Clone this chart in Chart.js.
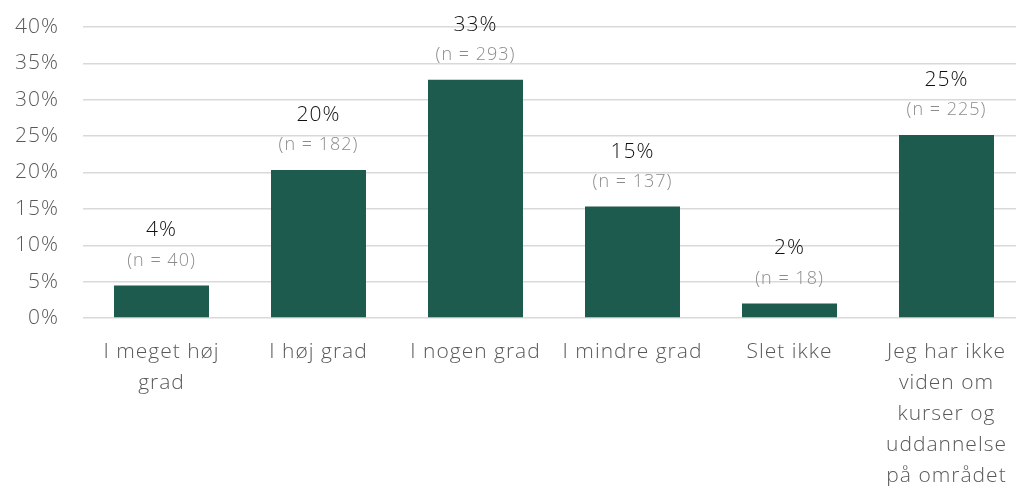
<!DOCTYPE html>
<html>
<head>
<meta charset="utf-8">
<script src="https://cdn.jsdelivr.net/npm/chart.js@4/dist/chart.umd.min.js"></script>
<style>
  html, body { margin: 0; padding: 0; background: #fff; overflow: hidden; }
  #wrap { width: 1025px; height: 486px; }
</style>
</head>
<body>
<div id="wrap"><canvas id="chart"></canvas></div>
<script>
const categories = [
    ['I meget høj', 'grad'],
    'I høj grad',
    'I nogen grad',
    'I mindre grad',
    'Slet ikke',
    ['Jeg har ikke', 'viden om', 'kurser og', 'uddannelse', 'på området']
];
const shares = [4.47, 20.34, 32.74, 15.31, 2.01, 25.14];
const counts = [40, 182, 293, 137, 18, 225];
const yTicks = [0, 5, 10, 15, 20, 25, 30, 35, 40];

const FONT = '"Open Sans", "Noto Sans", sans-serif';
const SPACING = '1px';

// wider tracking for every text drawn on the canvas
const tracking = {
    id: 'tracking',
    beforeDraw(chart) { chart.ctx.letterSpacing = SPACING; }
};

// percentage and n above each bar
const barLabels = {
    id: 'barLabels',
    afterDatasetsDraw(chart) {
        const ctx = chart.ctx;
        const meta = chart.getDatasetMeta(0);
        ctx.save();
        ctx.letterSpacing = SPACING;
        ctx.textAlign = 'center';
        ctx.textBaseline = 'middle';
        meta.data.forEach((bar, i) => {
            ctx.font = '300 21px ' + FONT;
            ctx.fillStyle = '#111111';
            ctx.fillText(Math.round(shares[i]) + '%', bar.x, bar.y - 55);
            ctx.font = '300 18px ' + FONT;
            ctx.fillStyle = '#8c8c8c';
            ctx.fillText('(n = ' + counts[i] + ')', bar.x, bar.y - 25);
        });
        ctx.restore();
    }
};

new Chart(document.getElementById('chart'), {
    type: 'bar',
    data: {
        labels: categories,
        datasets: [{
            data: shares,
            backgroundColor: '#1e5b4f',
            barPercentage: 1,
            categoryPercentage: 0.605
        }]
    },
    options: {
        responsive: true,
        maintainAspectRatio: false,
        animation: false,
        layout: { padding: { top: 27, left: 0, right: 0, bottom: 0 } },
        plugins: {
            legend: { display: false },
            tooltip: { enabled: false }
        },
        scales: {
            x: {
                grid: { display: false },
                border: { display: false },
                ticks: {
                    autoSkip: false,
                    maxRotation: 0,
                    padding: 10,
                    color: '#595959',
                    font: { family: FONT, size: 21, weight: 300, lineHeight: 1.48 }
                },
                afterFit(scale) { scale.height = 168; }
            },
            y: {
                min: 0,
                max: 40,
                afterBuildTicks(scale) {
                    scale.ticks = yTicks.map(v => ({ value: v }));
                },
                afterFit(scale) {
                    scale.width = 83;
                    scale.paddingTop = 0;
                    scale.paddingBottom = 0;
                },
                grid: { color: '#d9d9d9', lineWidth: 1.5, drawTicks: false },
                border: { display: false },
                ticks: {
                    padding: 24,
                    color: '#595959',
                    font: { family: FONT, size: 21, weight: 300 },
                    callback: v => v + '%'
                }
            }
        }
    },
    plugins: [tracking, barLabels]
});
</script>
</body>
</html>
